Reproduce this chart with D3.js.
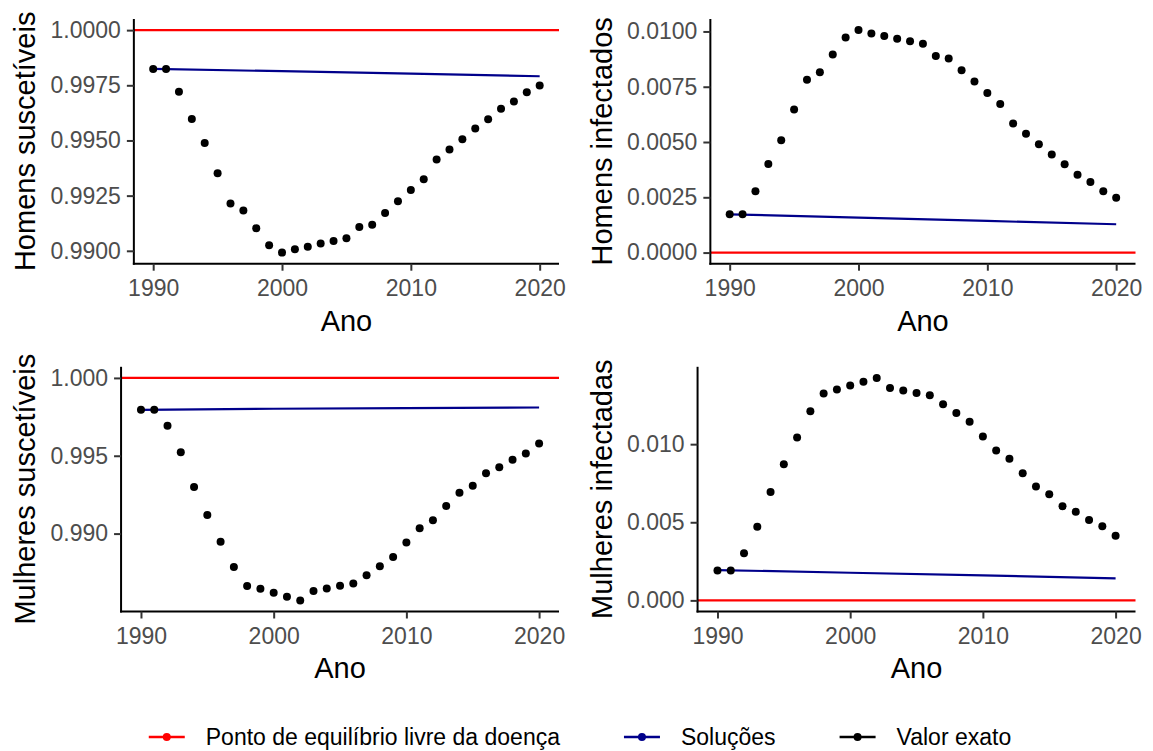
<!DOCTYPE html>
<html>
<head>
<meta charset="utf-8">
<script src="https://cdn.jsdelivr.net/npm/d3@7"></script>
<style>
  body { margin: 0; background: #fff; }
  text { font-family: "Liberation Sans", Arial, sans-serif; }
</style>
</head>
<body>
<svg id="chart" width="1153" height="751"></svg>
<script>
// anos observados
const years = [1990, 1991, 1992, 1993, 1994, 1995, 1996, 1997, 1998, 1999, 2000,
    2001, 2002, 2003, 2004, 2005, 2006, 2007, 2008, 2009, 2010,
    2011, 2012, 2013, 2014, 2015, 2016, 2017, 2018, 2019, 2020];

// valor exato (pontos)
const homensSusc = [0.99824, 0.99824, 0.99721, 0.99597, 0.99489, 0.99351, 0.99214, 0.99183, 0.99102, 0.99025, 0.98992,
    0.99007, 0.99018, 0.99033, 0.99045, 0.99057, 0.99108, 0.99118, 0.99171, 0.99225, 0.99276,
    0.99324, 0.99414, 0.99459, 0.99506, 0.99554, 0.99596, 0.99644, 0.99677, 0.99719, 0.99749];
const homensInf = [0.00173, 0.00173, 0.00277, 0.00401, 0.00508, 0.00647, 0.00782, 0.00815, 0.00896, 0.00973, 0.01006,
    0.00991, 0.00979, 0.00967, 0.00956, 0.00944, 0.00889, 0.00878, 0.00825, 0.00774, 0.00722,
    0.00672, 0.00584, 0.00537, 0.00490, 0.00444, 0.00400, 0.00352, 0.00319, 0.00277, 0.00248];
const mulheresSusc = [0.99795, 0.99795, 0.99693, 0.99522, 0.99299, 0.99119, 0.98947, 0.98785, 0.98663, 0.98646, 0.98620,
    0.98595, 0.98571, 0.98631, 0.98648, 0.98665, 0.98680, 0.98733, 0.98791, 0.98849, 0.98942,
    0.99034, 0.99085, 0.99177, 0.99262, 0.99307, 0.99388, 0.99426, 0.99475, 0.99514, 0.99578];
const mulheresInf = [0.00192, 0.00192, 0.00301, 0.00471, 0.00693, 0.00872, 0.01043, 0.01211, 0.01324, 0.01350, 0.01375,
    0.01399, 0.01424, 0.01360, 0.01343, 0.01328, 0.01313, 0.01256, 0.01200, 0.01143, 0.01049,
    0.00959, 0.00906, 0.00814, 0.00729, 0.00680, 0.00603, 0.00567, 0.00514, 0.00475, 0.00414];

// soluções (linha azul)
const solYears = [1990, 2000, 2010, 2020];
const solHomensSusc = [0.99824, 0.99814, 0.99803, 0.99791];
const solHomensInf = [0.00173, 0.00158, 0.00143, 0.00128];
const solMulheresSusc = [0.99795, 0.99802, 0.99806, 0.99810];
const solMulheresInf = [0.00194, 0.00177, 0.00160, 0.00141];

// ponto de equilíbrio livre da doença
const equilibrio = [1, 0, 1, 0];

const xTicks = [1990, 2000, 2010, 2020];
const yTicks = [
    [0.9900, 0.9925, 0.9950, 0.9975, 1.0000],
    [0.0000, 0.0025, 0.0050, 0.0075, 0.0100],
    [0.990, 0.995, 1.000],
    [0.000, 0.005, 0.010]
];
const yFormats = ['.4f', '.4f', '.3f', '.3f'];
const yLabels = ['Homens suscetíveis', 'Homens infectados', 'Mulheres suscetíveis', 'Mulheres infectadas'];
const legendLabels = ['Ponto de equilíbrio livre da doença', 'Soluções', 'Valor exato'];
const colors = ['#FF0000', '#00008B', '#000000'];

const svg = d3.select('#chart');

const panels = [
    {dots: homensSusc, sol: solHomensSusc},
    {dots: homensInf, sol: solHomensInf},
    {dots: mulheresSusc, sol: solMulheresSusc},
    {dots: mulheresInf, sol: solMulheresInf}
];

panels.forEach((p, i) => drawPanel(p, i));

function drawPanel(p, i) {
    let col = i % 2, row = Math.floor(i / 2);
    let g = svg.append('g')
        .attr('transform', `translate(${col * 576.5}, ${row * 347.8})`);

    let fmt = d3.format(yFormats[i]);

    // largura dos rótulos do eixo y
    let tmp = g.append('text').style('font-size', '23px');
    let maxW = 0;
    yTicks[i].forEach(t => {
        tmp.text(fmt(t));
        maxW = Math.max(maxW, tmp.node().getComputedTextLength());
    });
    tmp.remove();

    let x0 = 35 + 15 + maxW + 13.5, x1 = 559,
        y0 = 19, y1 = 263.7;

    let xScale = d3.scaleLinear()
        .domain([1988.5, 2021.5])
        .range([x0, x1]);

    let all = p.dots.concat(p.sol, [equilibrio[i]]);
    let lo = d3.min(all), hi = d3.max(all), pad = (hi - lo) * 0.05;
    let yScale = d3.scaleLinear()
        .domain([lo - pad, hi + pad])
        .range([y1, y0]);

    // linha vermelha
    g.append('line')
        .attr('x1', x0).attr('x2', x1)
        .attr('y1', yScale(equilibrio[i])).attr('y2', yScale(equilibrio[i]))
        .attr('stroke', colors[0])
        .attr('stroke-width', 2.2);

    // soluções
    let line = d3.line()
        .x((d, j) => xScale(solYears[j]))
        .y(d => yScale(d));
    g.append('path')
        .datum(p.sol)
        .attr('d', line)
        .attr('fill', 'none')
        .attr('stroke', colors[1])
        .attr('stroke-width', 2.2);

    // valor exato
    g.selectAll('circle')
        .data(p.dots)
        .join('circle')
        .attr('cx', (d, j) => xScale(years[j]))
        .attr('cy', d => yScale(d))
        .attr('r', 4)
        .attr('fill', colors[2]);

    let xAxis = g.append('g')
        .attr('transform', `translate(0, ${y1})`)
        .call(d3.axisBottom(xScale)
            .tickValues(xTicks)
            .tickFormat(d3.format('d'))
            .tickSize(7)
            .tickSizeOuter(0)
            .tickPadding(9));

    let yAxis = g.append('g')
        .attr('transform', `translate(${x0}, 0)`)
        .call(d3.axisLeft(yScale)
            .tickValues(yTicks[i])
            .tickFormat(fmt)
            .tickSize(7)
            .tickSizeOuter(0)
            .tickPadding(6));

    [xAxis, yAxis].forEach(a => {
        a.select('.domain').attr('stroke', '#000').attr('stroke-width', 2);
        a.selectAll('.tick line').attr('stroke', '#333').attr('stroke-width', 2);
        a.selectAll('.tick text')
            .attr('fill', '#4D4D4D')
            .style('font-size', '23px')
            .style('font-family', '"Liberation Sans", Arial, sans-serif');
    });
    // cantos dos eixos se encontram
    yAxis.select('.domain').attr('d', `M0,${y0}V${y1 + 1}`);
    xAxis.select('.domain').attr('d', `M${x0 - 1},0H${x1}`);

    g.append('text')
        .attr('x', (x0 + x1) / 2)
        .attr('y', y1 + 67)
        .attr('text-anchor', 'middle')
        .style('font-size', '29px')
        .text('Ano');

    g.append('text')
        .attr('transform', `translate(35, ${(y0 + y1) / 2}) rotate(-90)`)
        .attr('text-anchor', 'middle')
        .style('font-size', '29px')
        .text(yLabels[i]);
}

// legenda
let legend = svg.append('g');
let items = legend.selectAll('g')
    .data(legendLabels)
    .join('g');

items.append('line')
    .attr('x1', 0).attr('x2', 36)
    .attr('stroke', (d, i) => colors[i])
    .attr('stroke-width', 2.4);
items.append('circle')
    .attr('cx', 18)
    .attr('r', 4)
    .attr('fill', (d, i) => colors[i]);
items.append('text')
    .attr('x', 57)
    .attr('dy', '0.35em')
    .style('font-size', '23px')
    .text(d => d);

let widths = [];
items.each(function () {
    widths.push(57 + d3.select(this).select('text').node().getComputedTextLength());
});
let gap = 64;
let total = d3.sum(widths) + gap * (widths.length - 1);
let cx = 580 - total / 2;
items.attr('transform', (d, i) => {
    let x = cx + d3.sum(widths.slice(0, i)) + gap * i;
    return `translate(${x}, 737)`;
});
</script>
</body>
</html>
